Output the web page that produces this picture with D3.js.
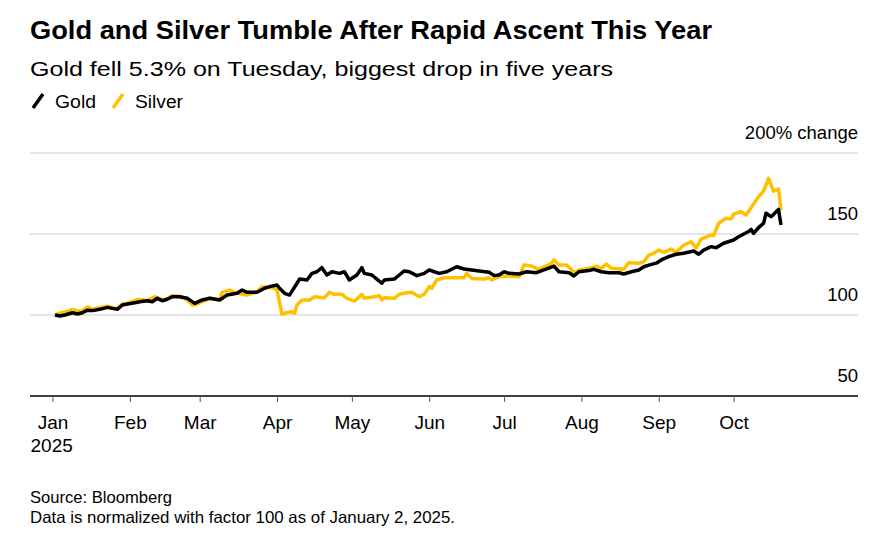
<!DOCTYPE html>
<html>
<head>
<meta charset="utf-8">
<script src="https://cdn.jsdelivr.net/npm/d3@7"></script>
<style>
  body { margin: 0; background: #fff; }
  svg { font-family: "Liberation Sans", Arial, sans-serif; }
</style>
</head>
<body>
<div id="chart"></div>
<script>
const width = 878;
const height = 537;

// Gold, normalized to 100 on Jan 2 2025
const goldDates = ["2025-01-02","2025-01-04","2025-01-06","2025-01-09","2025-01-11","2025-01-13","2025-01-15","2025-01-17","2025-01-20","2025-01-23","2025-01-25","2025-01-27","2025-01-29","2025-01-31",
  "2025-02-03","2025-02-05","2025-02-08","2025-02-10","2025-02-12","2025-02-14","2025-02-16","2025-02-18","2025-02-21","2025-02-24","2025-02-27",
  "2025-03-02","2025-03-05","2025-03-09","2025-03-12","2025-03-16","2025-03-18","2025-03-20","2025-03-24","2025-03-27","2025-03-29",
  "2025-04-01","2025-04-02","2025-04-04","2025-04-06","2025-04-09","2025-04-10","2025-04-13","2025-04-15","2025-04-17","2025-04-19","2025-04-21","2025-04-23","2025-04-26","2025-04-28","2025-04-30",
  "2025-05-03","2025-05-05","2025-05-06","2025-05-09","2025-05-11","2025-05-13","2025-05-14","2025-05-18","2025-05-20","2025-05-22","2025-05-24","2025-05-27","2025-05-30",
  "2025-06-01","2025-06-03","2025-06-05","2025-06-08","2025-06-12","2025-06-15","2025-06-18","2025-06-21","2025-06-25","2025-06-27","2025-06-29",
  "2025-07-01","2025-07-03","2025-07-07","2025-07-10","2025-07-14","2025-07-17","2025-07-21","2025-07-23","2025-07-27","2025-07-29","2025-07-31",
  "2025-08-04","2025-08-06","2025-08-09","2025-08-12","2025-08-16","2025-08-18","2025-08-21","2025-08-24","2025-08-26","2025-08-28","2025-08-31",
  "2025-09-02","2025-09-05","2025-09-08","2025-09-11","2025-09-15","2025-09-17","2025-09-19","2025-09-22","2025-09-24","2025-09-27",
  "2025-10-01","2025-10-03","2025-10-07","2025-10-08","2025-10-09","2025-10-11","2025-10-13","2025-10-14","2025-10-16","2025-10-17","2025-10-19","2025-10-20"];
const goldValues = [100,99.4,100,101.4,100.6,101.4,103,102.7,103.5,104.7,104.1,103.5,106.2,106.8,
  107.6,108.2,108.8,108.2,110.3,108.8,109.7,111.3,111.3,110.3,107.2,
  109.3,110.3,109.3,112.3,113.4,115.4,114,114,116.5,117.5,
  118.5,116.5,113.4,112.3,119.6,122.2,121.6,125.7,126.7,129.2,124.7,126.7,125.7,126.7,121.6,
  124.7,129.2,125.7,124.7,122.2,119.6,121.6,122.2,124.7,127.2,126.7,124.3,125.7,
  127.8,126.7,125.7,126.7,129.8,128.4,127.8,127.2,126.4,124.3,124.7,
  126.7,125.7,125.3,126.7,126.1,127.8,130.2,126.7,126.1,124.1,126.7,
  127.4,128.2,126.7,126.1,126.1,125.3,126.7,127.8,129.8,130.8,132,
  134,136,137.5,138.1,139.5,137.5,140.1,142.2,141.5,144.3,
  146.3,148.3,151.5,152.8,150.4,153.9,156.6,162.8,160.7,162,165.2,155.6];

// Silver, normalized to 100 on Jan 2 2025
const silverDates = ["2025-01-02","2025-01-04","2025-01-06","2025-01-09","2025-01-11","2025-01-13","2025-01-15","2025-01-17","2025-01-20","2025-01-23","2025-01-25","2025-01-27","2025-01-29","2025-01-31",
  "2025-02-04","2025-02-08","2025-02-11","2025-02-14","2025-02-16","2025-02-18","2025-02-21","2025-02-24","2025-02-26","2025-02-27",
  "2025-03-02","2025-03-05","2025-03-09","2025-03-10","2025-03-13","2025-03-16","2025-03-20","2025-03-24","2025-03-26","2025-03-28","2025-03-31",
  "2025-04-01","2025-04-03","2025-04-05","2025-04-07","2025-04-08","2025-04-09","2025-04-11","2025-04-14","2025-04-16","2025-04-20","2025-04-22","2025-04-24","2025-04-27","2025-04-29",
  "2025-05-02","2025-05-04","2025-05-05","2025-05-06","2025-05-10","2025-05-12","2025-05-13","2025-05-14","2025-05-18","2025-05-20","2025-05-22","2025-05-25","2025-05-28","2025-05-30",
  "2025-06-01","2025-06-02","2025-06-04","2025-06-07","2025-06-11","2025-06-15","2025-06-16","2025-06-18","2025-06-23","2025-06-25","2025-06-26","2025-06-29",
  "2025-07-03","2025-07-07","2025-07-09","2025-07-12","2025-07-15","2025-07-17","2025-07-20","2025-07-21","2025-07-23","2025-07-26","2025-07-28","2025-07-29","2025-07-31",
  "2025-08-04","2025-08-07","2025-08-09","2025-08-11","2025-08-13","2025-08-18","2025-08-20","2025-08-24","2025-08-26","2025-08-28","2025-08-30",
  "2025-09-01","2025-09-03","2025-09-06","2025-09-08","2025-09-11","2025-09-14","2025-09-16","2025-09-18","2025-09-22","2025-09-23","2025-09-25","2025-09-28","2025-09-30",
  "2025-10-01","2025-10-04","2025-10-06","2025-10-08","2025-10-11","2025-10-13","2025-10-15","2025-10-17","2025-10-19","2025-10-20"];
const silverValues = [100,101.3,101.8,103.5,102.5,102.5,105,103.5,104.5,105.5,104.5,104,107,107,
  109.5,109,111.3,109.5,110,112,111.5,109.5,106.2,106.2,
  108.2,110.3,109.5,114,115.4,113.4,112.3,114.4,117.5,117,116.5,
  115.4,100.4,101.6,102,101,106.2,109.3,109.3,111.3,110.7,114,112.8,112.8,110.3,
  108.6,111.3,112.8,110.3,111.3,111.9,109.3,110.7,110.3,112.8,113.4,114,111.3,112.8,
  117.5,116.5,121.6,123,123,123,125.7,122.6,122.2,123,121.6,123.6,
  124.1,123.6,130.9,130.2,128.2,129.8,131.9,134,130.9,130.9,128.2,125.7,127.8,
  128.8,130.2,128.8,131.5,128.8,128.2,132.3,131.9,132.9,137,138.1,
  140.1,138.7,140.7,138.7,143.2,145.2,141.5,146.9,149.4,149,156.6,159.7,159.3,
  162.2,163.8,161.7,166.2,173,176.5,184.4,176.5,177.8,164.8];

const yTicks = [50, 100, 150, 200];
const monthTicks = ["2025-01-01","2025-02-01","2025-03-01","2025-04-01","2025-05-01","2025-06-01","2025-07-01","2025-08-01","2025-09-01","2025-10-01"];

const parse = d3.timeParse("%Y-%m-%d");
const gold = goldDates.map((d, i) => ({ date: parse(d), value: goldValues[i] }));
const silver = silverDates.map((d, i) => ({ date: parse(d), value: silverValues[i] }));

const plotLeft = 30, plotRight = 858;

const x = d3.scaleTime()
  .domain([parse("2025-01-01"), parse("2025-10-01")])
  .range([52.5, 733.6]);

const y = d3.scaleLinear()
  .domain([50, 200])
  .range([396, 153]);

const svg = d3.select("#chart").append("svg")
  .attr("width", width)
  .attr("height", height);

// titles
svg.append("text")
  .attr("x", 30).attr("y", 39)
  .attr("font-size", 25).attr("font-weight", "bold")
  .attr("textLength", 682).attr("lengthAdjust", "spacingAndGlyphs")
  .text("Gold and Silver Tumble After Rapid Ascent This Year");

svg.append("text")
  .attr("x", 30).attr("y", 76)
  .attr("font-size", 20)
  .attr("textLength", 583).attr("lengthAdjust", "spacingAndGlyphs")
  .text("Gold fell 5.3% on Tuesday, biggest drop in five years");

// legend
const legend = [{ name: "Gold", color: "#000", x: 33, w: 41 }, { name: "Silver", color: "#ffc000", x: 113, w: 48 }];
const lg = svg.selectAll(".legend").data(legend).enter().append("g")
  .attr("transform", d => `translate(${d.x},0)`);
lg.append("line")
  .attr("x1", 0).attr("y1", 108).attr("x2", 10).attr("y2", 94)
  .attr("stroke", d => d.color).attr("stroke-width", 3.5).attr("stroke-linecap", "butt");
lg.append("text")
  .attr("x", 22).attr("y", 108)
  .attr("font-size", 18)
  .attr("textLength", d => d.w).attr("lengthAdjust", "spacingAndGlyphs")
  .text(d => d.name);

// gridlines
svg.append("g").selectAll("line")
  .data(yTicks.filter(t => t > 50))
  .enter().append("line")
  .attr("x1", plotLeft).attr("x2", plotRight)
  .attr("y1", d => y(d)).attr("y2", d => y(d))
  .attr("stroke", "#dcdcdc").attr("stroke-width", 1.5);

// y labels
svg.append("g").selectAll("text")
  .data(yTicks)
  .enter().append("text")
  .attr("x", plotRight).attr("y", d => y(d) - 14)
  .attr("text-anchor", "end")
  .attr("font-size", 18.5)
  .text(d => d === 200 ? "200% change" : d);

// x axis
const xAxis = svg.append("g")
  .attr("transform", `translate(0,${y(50)})`);
xAxis.append("line")
  .attr("x1", plotLeft).attr("x2", plotRight)
  .attr("stroke", "#000").attr("stroke-width", 1.3);
xAxis.call(d3.axisBottom(x)
    .tickValues(monthTicks.map(parse))
    .tickSize(6)
    .tickPadding(14)
    .tickFormat(d3.timeFormat("%b")))
  .call(g => g.select(".domain").remove())
  .call(g => g.selectAll(".tick line").attr("stroke", "#555").attr("stroke-width", 1))
  .call(g => g.selectAll(".tick text")
    .attr("font-size", 19)
    .attr("font-family", "Liberation Sans, Arial, sans-serif")
    .attr("fill", "#000"));
svg.append("text")
  .attr("x", 30.5).attr("y", 452)
  .attr("font-size", 19)
  .text("2025");

// lines
const line = d3.line()
  .x(d => x(d.date))
  .y(d => y(d.value));

svg.append("path")
  .datum(silver)
  .attr("fill", "none")
  .attr("stroke", "#ffc000")
  .attr("stroke-width", 3.5)
  .attr("stroke-linejoin", "round")
  .attr("d", line);

svg.append("path")
  .datum(gold)
  .attr("fill", "none")
  .attr("stroke", "#000")
  .attr("stroke-width", 3.5)
  .attr("stroke-linejoin", "round")
  .attr("d", line);

// footer
svg.append("text")
  .attr("x", 30).attr("y", 503)
  .attr("font-size", 16.5)
  .attr("textLength", 142).attr("lengthAdjust", "spacingAndGlyphs")
  .text("Source: Bloomberg");
svg.append("text")
  .attr("x", 30).attr("y", 523)
  .attr("font-size", 16.5)
  .attr("textLength", 425).attr("lengthAdjust", "spacingAndGlyphs")
  .text("Data is normalized with factor 100 as of January 2, 2025.");
</script>
</body>
</html>
